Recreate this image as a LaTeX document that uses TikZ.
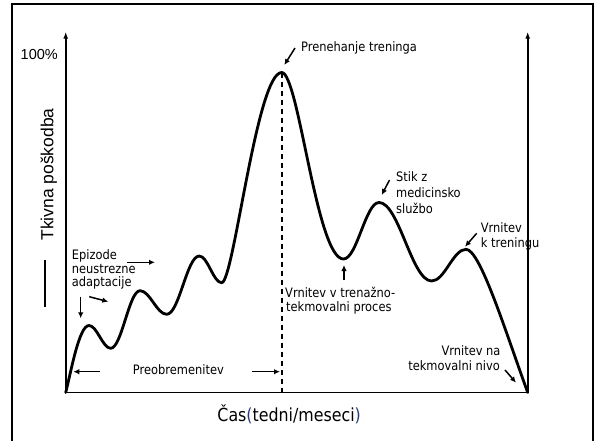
\documentclass[tikz,border=0pt]{standalone}
\usepackage{fontspec}
\setmainfont{Liberation Sans}
\newfontfamily\labfont[FakeStretch=0.88]{DejaVu Sans}
\usetikzlibrary{arrows.meta}
\definecolor{parblue}{RGB}{40,58,125}

\begin{document}
\begin{tikzpicture}[x=1pt,y=-1pt,
  lab/.style={font=\labfont\fontsize{13}{15}\selectfont, inner sep=0pt, anchor=base west},
  labr/.style={lab, anchor=base east},
  curve/.style={line width=2.8pt, line cap=round, line join=round},
  axis/.style={line width=1.6pt},
  axisarrow/.style={axis, -{Latex[length=7pt,width=5pt]}},
  pointer/.style={line width=1.5pt, -{Latex[length=6pt,width=5.5pt]}},
]
\useasboundingbox (0,0) rectangle (594,440);

% outer frame
\draw[line width=2.2pt] (12,4) rectangle (592.7,442);

% axes
\coordinate (o) at (65.7,392.5);
\coordinate (rb) at (527.7,392.5);
\coordinate (ltop) at (65.7,31.7);
\coordinate (rtop) at (527.7,31.7);
\draw[axisarrow] (o) -- (ltop);
\draw[axisarrow] (rb) -- (rtop);
\draw[axis] (o) -- (rb);

% extrema of the damage curve
\coordinate (p1) at (89,325.5);
\coordinate (t1) at (110.7,348.3);
\coordinate (p2) at (140,290.7);
\coordinate (t2) at (166.7,314.3);
\coordinate (p3) at (199.3,256);
\coordinate (t3) at (221.7,282.7);
\coordinate (pk) at (281.7,72.5);
\coordinate (t4) at (343.5,259);
\coordinate (p5) at (379,202.5);
\coordinate (t5) at (431.7,281);
\coordinate (p6) at (466,249.3);
\coordinate (pkb) at (281.7,392.5);

% vertical marker under the main peak
\draw[line width=1.6pt, dash pattern=on 5.5pt off 3.5pt] (pk) -- (pkb);

% damage curve
\draw[curve] (o)
  .. controls (71,372) and (79,325.5) .. (p1)
  .. controls (97,325.5) and (102.7,348.3) .. (t1)
  .. controls (121.7,348.3) and (129,290.7) .. (p2)
  .. controls (150,290.7) and (156.7,314.3) .. (t2)
  .. controls (179.2,314.3) and (186.8,256) .. (p3)
  .. controls (207.8,256) and (213.2,282.7) .. (t3)
  .. controls (233.7,282.7) and (256.7,72.5) .. (pk)
  .. controls (298.7,72.5) and (316.5,259) .. (t4)
  .. controls (357,259) and (365.5,202.5) .. (p5)
  .. controls (399,202.5) and (411.7,281) .. (t5)
  .. controls (444.7,281) and (453,249.3) .. (p6)
  .. controls (480,249.3) and (505,330) .. (rb);

% axis texts
\node[inner sep=0pt, anchor=base west, font=\fontsize{14.5}{17}\selectfont] (hundred) at (20.5,59.3) {100\%};
\node[inner sep=0pt, anchor=base, rotate=90, font=\fontsize{17.5}{20}\selectfont] (ylab) at (53.3,174.5) {Tkivna poškodba};
\coordinate (bar1) at (45,260);
\coordinate (bar2) at (45,306.7);
\draw[line width=1.9pt] (bar1) -- (bar2);
\node[inner sep=0pt, anchor=base, font=\labfont\fontsize{18}{21}\selectfont] (xlab) at (289.2,421)
  {Čas\textcolor{parblue}{(}tedni/meseci\textcolor{parblue}{)}};

% annotations
\node[lab] (stop) at (301,51.7) {Prenehanje treninga};
\node[lab] (stik1) at (396,181.7) {Stik z};
\node[lab] (stik2) at (396,197.7) {medicinsko};
\node[lab] (stik3) at (396,213.3) {službo};
\node[lab] (vk1) at (480.7,232.3) {Vrnitev};
\node[lab] (vk2) at (480.7,247.7) {k treningu};
\node[lab] (vt1) at (285,297.3) {Vrnitev v trenažno-};
\node[lab] (vt2) at (286,311.7) {tekmovalni proces};
\node[labr] (vn1) at (500.7,355) {Vrnitev na};
\node[labr] (vn2) at (500,370) {tekmovalni nivo};
\node[lab] (ep1) at (71.7,259) {Epizode};
\node[lab] (ep2) at (71.7,273.3) {neustrezne};
\node[lab] (ep3) at (71.7,286.7) {adaptacije};
\node[lab, anchor=base] (over) at (178.4,374) {Preobremenitev};

% pointer arrows
\coordinate (a1s) at (295,48);     \coordinate (a1e) at (284.3,65);
\coordinate (a2s) at (389.5,180);  \coordinate (a2e) at (381.7,195);
\coordinate (a3s) at (476.7,233.3);\coordinate (a3e) at (465,246.7);
\coordinate (a4s) at (344,280);    \coordinate (a4e) at (344,265);
\coordinate (a5s) at (505,370);    \coordinate (a5e) at (516,382.7);
\coordinate (a6s) at (80.7,296.7); \coordinate (a6e) at (80.7,318.3);
\coordinate (a7s) at (89.3,296.7); \coordinate (a7e) at (108.3,301.7);
\coordinate (a8s) at (127,262.3);  \coordinate (a8e) at (155,262.3);
\coordinate (a9s) at (100,371.7);  \coordinate (a9e) at (73.3,371.7);
\coordinate (a10s) at (252.3,371.7);\coordinate (a10e) at (280,371.7);
\foreach \i in {1,...,10} \draw[pointer] (a\i s) -- (a\i e);
\end{tikzpicture}
\end{document}
